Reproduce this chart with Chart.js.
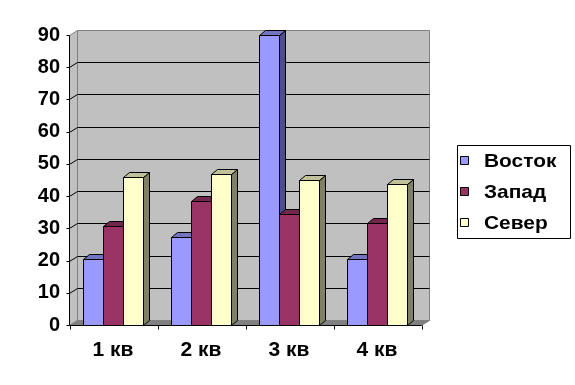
<!DOCTYPE html>
<html>
<head>
<meta charset="utf-8">
<script src="https://cdn.jsdelivr.net/npm/chart.js@4/dist/chart.umd.min.js"></script>
<style>
  html, body { margin: 0; background: #fff; }
  #wrap { width: 575px; height: 385px; }
</style>
</head>
<body>
<div id="wrap"><canvas id="chart"></canvas></div>
<script>
// data
const quarters = ['1 кв', '2 кв', '3 кв', '4 кв'];
const seriesNames = ['Восток', 'Запад', 'Север'];
const vostok = [20.4, 27.4, 90, 20.4];
const zapad = [30.6, 38.6, 34.6, 31.6];
const sever = [45.9, 46.9, 45, 43.9];
const yTicks = [0, 10, 20, 30, 40, 50, 60, 70, 80, 90];

// front / top / side colours per series
const frontColors = ['#9999FF', '#993366', '#FFFFCC'];
const topColors = ['#7373C0', '#73264D', '#C0C09A'];
const sideColors = ['#4D4D8C', '#4D1A33', '#808066'];

const FONT = 'Arial, "Liberation Sans", sans-serif';
const WALL_DX = 8, WALL_DY = -5;  // depth of the walls
const BAR_DX = 6, BAR_DY = -5;    // depth of a column

function poly(ctx, pts, fill, stroke) {
    ctx.beginPath();
    ctx.moveTo(pts[0][0], pts[0][1]);
    for (let k = 1; k < pts.length; k++) ctx.lineTo(pts[k][0], pts[k][1]);
    ctx.closePath();
    if (fill) { ctx.fillStyle = fill; ctx.fill(); }
    if (stroke) { ctx.strokeStyle = stroke; ctx.lineWidth = 1; ctx.stroke(); }
}

function line(ctx, x1, y1, x2, y2, color) {
    ctx.beginPath();
    ctx.moveTo(x1, y1);
    ctx.lineTo(x2, y2);
    ctx.strokeStyle = color;
    ctx.lineWidth = 1;
    ctx.stroke();
}

const chart3d = {
    id: 'chart3d',
    beforeDatasetsDraw(chart) {
        const ctx = chart.ctx;
        const a = chart.chartArea;
        const ys = chart.scales.y;
        const L = Math.round(a.left) + 0.5, R = Math.round(a.right) + 0.5;
        const T = Math.round(a.top) + 0.5, B = Math.round(a.bottom) + 0.5;
        ctx.save();

        // back wall, side wall, floor
        poly(ctx, [[L + WALL_DX, T + WALL_DY], [R + WALL_DX, T + WALL_DY], [R + WALL_DX, B + WALL_DY], [L + WALL_DX, B + WALL_DY]], '#C0C0C0', '#808080');
        poly(ctx, [[L, T], [L + WALL_DX, T + WALL_DY], [L + WALL_DX, B + WALL_DY], [L, B]], '#C0C0C0', '#808080');
        poly(ctx, [[L, B], [R, B], [R + WALL_DX, B + WALL_DY], [L + WALL_DX, B + WALL_DY]], '#808080', '#808080');

        // gridlines on the back wall
        yTicks.forEach(v => {
            const y = Math.round(ys.getPixelForValue(v)) + 0.5;
            if (v > 0 && v < ys.max) {
                line(ctx, L + WALL_DX, y + WALL_DY, R + WALL_DX, y + WALL_DY, '#000');
                line(ctx, L, y, L + WALL_DX, y + WALL_DY, '#000');
            }
            line(ctx, L - 3, y, L, y, '#000');
        });
        line(ctx, L, T, L, B, '#000');
        line(ctx, L, B, R, B, '#000');
        // category tick marks
        for (let j = 0; j <= quarters.length; j++) {
            const x = Math.round(L + (R - L) * j / quarters.length) + 0.5;
            line(ctx, x, B, x, B + 4, '#000');
        }

        // columns: side, top, front, left to right
        const nSets = chart.data.datasets.length;
        for (let j = 0; j < quarters.length; j++) {
            for (let i = 0; i < nSets; i++) {
                const p = chart.getDatasetMeta(i).data[j].getProps(['x', 'y', 'base', 'width'], true);
                const x0 = Math.round(p.x - p.width / 2) + 0.5;
                const x1 = Math.round(p.x + p.width / 2) + 0.5;
                const yt = Math.round(p.y) + 0.5;
                const yb = Math.round(p.base) + 0.5;
                poly(ctx, [[x1, yt], [x1 + BAR_DX, yt + BAR_DY], [x1 + BAR_DX, yb + BAR_DY], [x1, yb]], sideColors[i], '#000');
                poly(ctx, [[x0, yt], [x0 + BAR_DX, yt + BAR_DY], [x1 + BAR_DX, yt + BAR_DY], [x1, yt]], topColors[i], '#000');
                poly(ctx, [[x0, yt], [x1, yt], [x1, yb], [x0, yb]], frontColors[i], '#000');
            }
        }
        ctx.restore();
        return false;
    },
    afterDraw(chart) {
        // legend box
        const ctx = chart.ctx;
        ctx.save();
        poly(ctx, [[457.5, 145.5], [570.5, 145.5], [570.5, 238.5], [457.5, 238.5]], '#fff', '#000');
        const rows = [161, 192, 223];
        chart.data.datasets.forEach((ds, i) => {
            const cy = rows[i];
            poly(ctx, [[460.5, cy - 4.5], [468.5, cy - 4.5], [468.5, cy + 3.5], [460.5, cy + 3.5]], ds.backgroundColor, '#000');
            ctx.save();
            ctx.translate(484, cy + 1);
            ctx.scale(1.1, 1);
            ctx.font = 'bold 19px ' + FONT;
            ctx.textBaseline = 'middle';
            ctx.fillStyle = '#000';
            ctx.fillText(ds.label, 0, 0);
            ctx.restore();
        });
        ctx.restore();
    }
};

new Chart(document.getElementById('chart'), {
    type: 'bar',
    data: {
        labels: quarters,
        datasets: [
            {label: seriesNames[0], data: vostok, backgroundColor: frontColors[0]},
            {label: seriesNames[1], data: zapad, backgroundColor: frontColors[1]},
            {label: seriesNames[2], data: sever, backgroundColor: frontColors[2]}
        ]
    },
    options: {
        responsive: true,
        maintainAspectRatio: false,
        animation: false,
        layout: {padding: {left: 0, top: 35, right: 154, bottom: 0}},
        datasets: {bar: {categoryPercentage: 0.68, barPercentage: 1}},
        plugins: {legend: {display: false}, tooltip: {enabled: false}},
        scales: {
            x: {
                grid: {display: false, drawTicks: false},
                border: {display: false},
                ticks: {color: '#000', font: {family: FONT, size: 21, weight: 'bold'}, padding: 13, maxRotation: 0},
                afterFit(s) { s.height = 60; }
            },
            y: {
                min: 0, max: 90,
                grid: {display: false, drawTicks: false},
                border: {display: false},
                ticks: {stepSize: 10, color: '#000', font: {family: FONT, size: 20, weight: 'bold'}, padding: 9},
                afterFit(s) { s.width = 69; }
            }
        }
    },
    plugins: [chart3d]
});
</script>
</body>
</html>
